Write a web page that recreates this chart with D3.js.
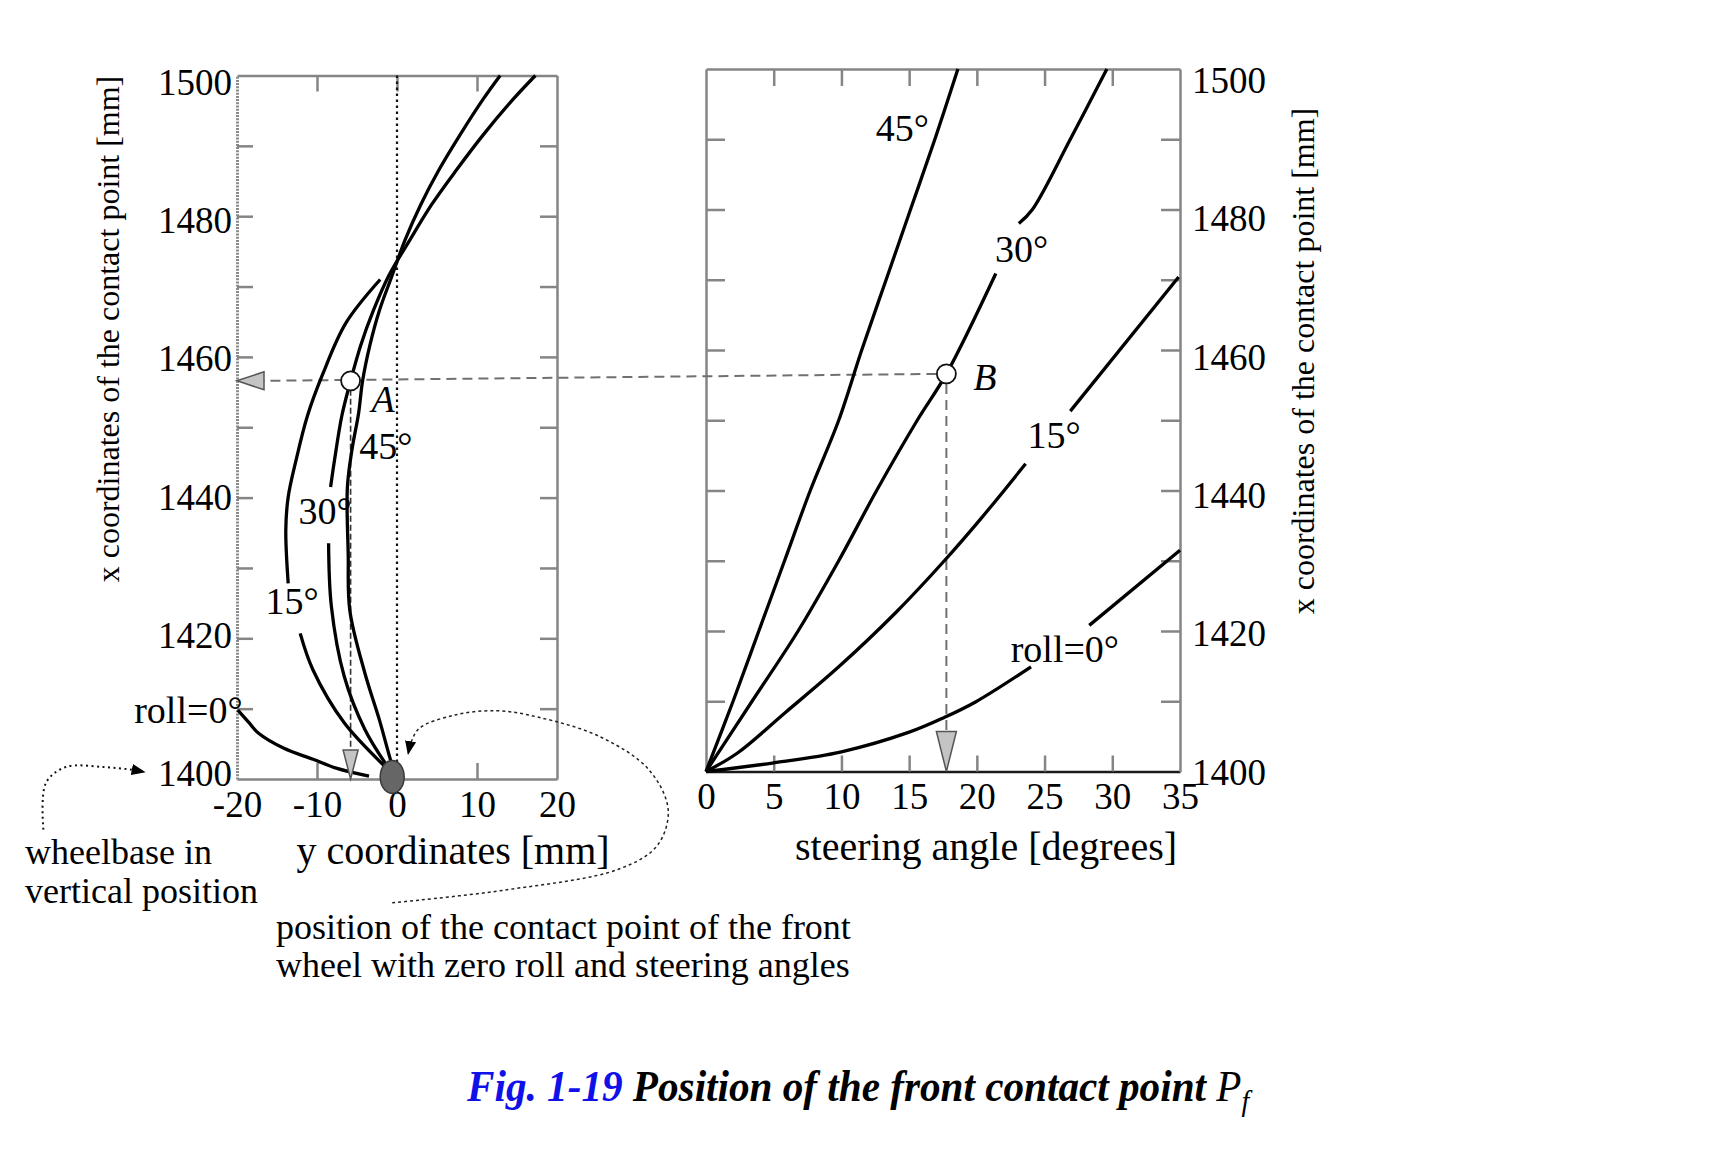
<!DOCTYPE html>
<html>
<head>
<meta charset="utf-8">
<script src="https://cdn.jsdelivr.net/npm/d3@7"></script>
<style>
  body { margin: 0; background: #fff; }
  svg text { font-family: "Liberation Serif", "Times New Roman", serif; }
</style>
</head>
<body>
<svg id="fig" width="1712" height="1159"></svg>
<script>
// values
// left panel : [y coordinate mm, x coordinate mm], one list of segments per roll angle
// (segments are broken where the curve label sits)
const roll0Left = [
  [[-19.9,1409.8],[-18.5,1408],[-17.3,1406.5],[-14.2,1404.4],[-10.5,1402.8],[-7.5,1401.5],[-3.5,1400.4]]
];
const roll15Left = [
  [[0,1400],[-1.2,1401.4],[-6.6,1408],[-10.5,1415.5],[-12.1,1420.7]],
  [[-13.6,1427.8],[-13.9,1435.4],[-13.6,1440.1],[-12.6,1445.4],[-11.2,1451.6],[-9.3,1457.5],[-6.4,1464.8],[-2.1,1471]]
];
const roll30Left = [
  [[0,1400],[-1.2,1401.8],[-4.0,1407],[-6.6,1414.6],[-8.2,1424.5],[-8.55,1433.5]],
  [[-8.3,1441.5],[-7.8,1445.4],[-6.9,1451.6],[-5.8,1456.6],[-4.55,1461.6],[-2.95,1466.6],[-1.0,1471.6],
   [1.6,1476.6],[4.3,1481.6],[7.45,1486.6],[10.8,1491.6],[14.5,1496.6],[17.3,1500]]
];
const roll45Left = [
  [[0,1400],[-0.7,1402.3],[-2.2,1408.4],[-4.0,1415],[-5.9,1424],[-6.1,1432],[-6.2,1441.5],[-5.6,1447],
   [-4.8,1452],[-4.3,1456.6],[-3.4,1461.6],[-2.2,1466.6],[-0.6,1471.6],[1.0,1476.6],[2.95,1481.6],
   [5.25,1486.6],[7.9,1491.6],[10.75,1496.6],[12.9,1500]]
];

// right panel : [steering angle deg, x coordinate mm]
const roll0Right = [
  [[0,1400],[4.9,1401.2],[10,1402.8],[15,1405.6],[17.6,1407.7],[19.9,1409.9],[24,1414.9]],
  [[28.3,1420.8],[35,1431.5]]
];
const roll15Right = [
  [[0,1400],[2.3,1402.6],[5.8,1408.3],[9.8,1414.9],[14,1422.6],[17.6,1430],[20.3,1436],[23.6,1443.8]],
  [[26.9,1451.3],[34.9,1470.4]]
];
const roll30Right = [
  [[0,1400],[3.4,1410],[6.8,1420],[9.8,1430],[12.6,1440],[15.6,1450],[17.75,1456.6],[21.4,1470.9]],
  [[23.1,1478],[24.1,1480],[26.9,1490],[29.6,1500]]
];
const roll45Right = [
  [[0,1400],[2,1410],[3.9,1420],[5.8,1430],[7.7,1440],[9.8,1450],[11.5,1460],[13.3,1470],[15.1,1480],[16.9,1490],[18.6,1500]]
];

const pointA = [-5.8, 1456.6];   // left panel
const pointB = [17.75, 1456.6];  // right panel
const contactPoint = [-0.6, 1400.3];

// ticks
const yCoordTicks = [-20, -10, 0, 10, 20];
const yCoordMinor = [-10, 0, 10];
const xCoordTicks = [1400, 1420, 1440, 1460, 1480, 1500];
const xCoordMinor = [1410, 1420, 1430, 1440, 1450, 1460, 1470, 1480, 1490];
const steerTicks = [0, 5, 10, 15, 20, 25, 30, 35];
const steerMinor = [5, 10, 15, 20, 25, 30];

// curve labels (data units of their panel)
const labelsLeft = [
  { t: "45°", a: -1.4, b: 1445.5 },
  { t: "30°", a: -9.0, b: 1436.2 },
  { t: "15°", a: -13.1, b: 1423.4 }
];
const labelsRight = [
  { t: "45°", a: 14.5, b: 1489.8 },
  { t: "30°", a: 23.3, b: 1472.5 },
  { t: "15°", a: 25.7, b: 1446.0 },
  { t: "roll=0°", a: 26.5, b: 1415.6 }
];

// ---------------------------------------------------------------
const svg = d3.select("#fig");
svg.append("rect").attr("width", 1712).attr("height", 1159).attr("fill", "#fff");

const xL = d3.scaleLinear().domain([-20, 20]).range([237, 557]);
const yL = d3.scaleLinear().domain([1400, 1500]).range([779, 75.5]);
const xR = d3.scaleLinear().domain([0, 35]).range([706, 1180]);
const yR = d3.scaleLinear().domain([1400, 1500]).range([771.5, 69]);

const frameGrey = "#858585";

function addAxis(axis, tx, ty, domainColor) {
  const g = svg.append("g").attr("transform", "translate(" + tx + "," + ty + ")").call(axis);
  if (domainColor) g.select(".domain").attr("stroke", domainColor).attr("stroke-width", 2.5);
  else g.select(".domain").remove();
  g.selectAll(".tick line").attr("stroke", frameGrey).attr("stroke-width", 2.5);
  g.selectAll(".tick text").attr("fill", "#000").style("font-size", "37px");
  return g;
}
const fmt = d => String(d);

// left panel frame
addAxis(d3.axisBottom(xL).tickValues(yCoordTicks).tickSize(0).tickSizeOuter(0).tickPadding(12).tickFormat(fmt), 0, yL(1400), frameGrey);
addAxis(d3.axisBottom(xL).tickValues(yCoordMinor).tickSize(-16).tickSizeOuter(0).tickFormat(""), 0, yL(1400), null);
addAxis(d3.axisTop(xL).tickValues(yCoordMinor).tickSize(-16).tickSizeOuter(0).tickFormat(""), 0, yL(1500), frameGrey);
const leftAx = addAxis(d3.axisLeft(yL).tickValues(xCoordTicks).tickSize(0).tickSizeOuter(0).tickPadding(5).tickFormat(fmt), xL(-20), 0, "#8a8a8a");
leftAx.select(".domain").attr("stroke-dasharray", "2,1.2").attr("stroke-width", 3);
// the printed labels sit a little closer together than the ticks
leftAx.selectAll(".tick text").attr("dy", "0.34em")
  .attr("transform", d => "translate(0," + (-6 + (d - 1400) * 0.125) + ")");
addAxis(d3.axisLeft(yL).tickValues(xCoordMinor).tickSize(-16).tickSizeOuter(0).tickFormat(""), xL(-20), 0, null);
addAxis(d3.axisRight(yL).tickValues(xCoordMinor).tickSize(-17).tickSizeOuter(0).tickFormat(""), xL(20), 0, frameGrey);

// right panel frame
addAxis(d3.axisBottom(xR).tickValues(steerTicks).tickSize(0).tickSizeOuter(0).tickPadding(11).tickFormat(fmt), 0, yR(1400), "#1a1a1a");
addAxis(d3.axisBottom(xR).tickValues(steerMinor).tickSize(-16).tickSizeOuter(0).tickFormat(""), 0, yR(1400), null);
addAxis(d3.axisTop(xR).tickValues(steerMinor).tickSize(-17).tickSizeOuter(0).tickFormat(""), 0, yR(1500), frameGrey);
addAxis(d3.axisLeft(yR).tickValues(xCoordMinor).tickSize(-19).tickSizeOuter(0).tickFormat(""), xR(0), 0, frameGrey);
const rightAx = addAxis(d3.axisRight(yR).tickValues(xCoordTicks).tickSize(0).tickSizeOuter(0).tickPadding(12).tickFormat(fmt), xR(35), 0, frameGrey);
rightAx.selectAll(".tick text").attr("dy", "0.34em")
  .attr("transform", d => "translate(0," + ((d - 1400) * 0.11) + ")");
addAxis(d3.axisRight(yR).tickValues(xCoordMinor).tickSize(-19).tickSizeOuter(0).tickFormat(""), xR(35), 0, null);

// dotted line at y = 0
svg.append("line")
  .attr("x1", xL(0)).attr("x2", xL(0)).attr("y1", yL(1500)).attr("y2", yL(1400))
  .attr("stroke", "#111").attr("stroke-width", 2.2).attr("stroke-dasharray", "2.5,3.5");

// construction lines A <- B
svg.append("line")
  .attr("x1", xR(pointB[0]) - 10).attr("y1", yR(pointB[1]))
  .attr("x2", xL(-20) + 26).attr("y2", yL(pointA[1]))
  .attr("stroke", "#707070").attr("stroke-width", 2).attr("stroke-dasharray", "10,6");
svg.append("line")
  .attr("x1", xR(pointB[0])).attr("y1", yR(pointB[1]) + 10)
  .attr("x2", xR(pointB[0])).attr("y2", yR(1400) - 40)
  .attr("stroke", "#707070").attr("stroke-width", 2).attr("stroke-dasharray", "10,6");
svg.append("line")
  .attr("x1", xL(pointA[0])).attr("y1", yL(pointA[1]) + 9)
  .attr("x2", xL(pointA[0])).attr("y2", yL(1400) - 28)
  .attr("stroke", "#333").attr("stroke-width", 1.6).attr("stroke-dasharray", "6,3");

// curves
const lineL = d3.line().x(d => xL(d[0])).y(d => yL(d[1])).curve(d3.curveCatmullRom.alpha(0.5));
const lineR = d3.line().x(d => xR(d[0])).y(d => yR(d[1])).curve(d3.curveCatmullRom.alpha(0.5));
[roll0Left, roll15Left, roll30Left, roll45Left].forEach(curve => {
  svg.append("g").selectAll("path").data(curve).join("path")
    .attr("d", lineL).attr("fill", "none").attr("stroke", "#000")
    .attr("stroke-width", 3.3).attr("stroke-linecap", "butt");
});
[roll0Right, roll15Right, roll30Right, roll45Right].forEach(curve => {
  svg.append("g").selectAll("path").data(curve).join("path")
    .attr("d", lineR).attr("fill", "none").attr("stroke", "#000")
    .attr("stroke-width", 3.3).attr("stroke-linecap", "butt");
});

// grey arrow heads
function tri(points) {
  svg.append("path").attr("d", "M" + points.map(p => p.join(",")).join("L") + "Z")
    .attr("fill", "#c4c4c4").attr("stroke", "#555").attr("stroke-width", 1.5);
}
const yArrow = yL(pointA[1]);
tri([[xL(-20), yArrow], [xL(-20) + 27, yArrow - 9], [xL(-20) + 27, yArrow + 9]]);
tri([[xL(pointA[0]), yL(1400)], [xL(pointA[0]) - 7.5, yL(1400) - 29], [xL(pointA[0]) + 7.5, yL(1400) - 29]]);
tri([[xR(pointB[0]), yR(1400)], [xR(pointB[0]) - 10, yR(1400) - 40], [xR(pointB[0]) + 10, yR(1400) - 40]]);

// points A, B
svg.append("circle").attr("cx", xL(pointA[0])).attr("cy", yL(pointA[1])).attr("r", 9.5)
  .attr("fill", "#fff").attr("stroke", "#111").attr("stroke-width", 1.8);
svg.append("circle").attr("cx", xR(pointB[0])).attr("cy", yR(pointB[1])).attr("r", 9.5)
  .attr("fill", "#fff").attr("stroke", "#111").attr("stroke-width", 1.8);

// contact point of the front wheel
svg.append("ellipse").attr("cx", xL(contactPoint[0])).attr("cy", yL(contactPoint[1]))
  .attr("rx", 12).attr("ry", 16.5).attr("fill", "#666").attr("stroke", "#3a3a3a").attr("stroke-width", 1.5);

// labels
const labelSize = "38px";
svg.append("g").selectAll("text").data(labelsLeft).join("text")
  .attr("x", d => xL(d.a)).attr("y", d => yL(d.b)).attr("text-anchor", "middle")
  .style("font-size", labelSize).text(d => d.t);
svg.append("g").selectAll("text").data(labelsRight).join("text")
  .attr("x", d => xR(d.a)).attr("y", d => yR(d.b)).attr("text-anchor", "middle")
  .style("font-size", labelSize).text(d => d.t);
svg.append("text").attr("x", xL(-19.3)).attr("y", yL(1408)).attr("text-anchor", "end")
  .style("font-size", labelSize).text("roll=0°");
svg.append("text").attr("x", xL(-1.75)).attr("y", yL(1452.2)).attr("text-anchor", "middle")
  .style("font-size", labelSize).style("font-style", "italic").text("A");
svg.append("text").attr("x", xR(20.6)).attr("y", yR(1454.3)).attr("text-anchor", "middle")
  .style("font-size", labelSize).style("font-style", "italic").text("B");

// axis titles
svg.append("text").attr("transform", "translate(119,329) rotate(-90)").attr("text-anchor", "middle")
  .style("font-size", "32px").text("x coordinates of the contact point [mm]");
svg.append("text").attr("transform", "translate(1314,361) rotate(-90)").attr("text-anchor", "middle")
  .style("font-size", "32px").text("x coordinates of the contact point [mm]");
svg.append("text").attr("x", 453).attr("y", 864).attr("text-anchor", "middle")
  .style("font-size", "40px").text("y coordinates [mm]");
svg.append("text").attr("x", 986).attr("y", 860).attr("text-anchor", "middle")
  .style("font-size", "40px").text("steering angle [degrees]");

// annotations
const defs = svg.append("defs");
defs.append("marker").attr("id", "head").attr("viewBox", "0 0 10 10").attr("refX", 9).attr("refY", 5)
  .attr("markerWidth", 14).attr("markerHeight", 14).attr("markerUnits", "userSpaceOnUse").attr("orient", "auto")
  .append("path").attr("d", "M0,1L10,5L0,9Z").attr("fill", "#000");

const wheelbaseArrow = [[-44.2,1392.8],[-43.9,1399.4],[-41.4,1401.7],[-36.7,1401.7],[-33.1,1401.3],[-31.6,1401.0]];
const contactArrow = [[-0.6,1382.4],[13.4,1384.2],[27.75,1387.2],[32.5,1390.5],[33.9,1395.6],
  [31.5,1401.3],[25.4,1406],[17.6,1408.8],[12.5,1409.7],[7.25,1409.1],[2.6,1407],[1.4,1403.6]];
const annLine = d3.line().x(d => xL(d[0])).y(d => yL(d[1])).curve(d3.curveCatmullRom.alpha(0.5));
svg.append("path").attr("d", annLine(wheelbaseArrow)).attr("fill", "none").attr("stroke", "#111")
  .attr("stroke-width", 2).attr("stroke-dasharray", "2,3.5").attr("marker-end", "url(#head)");
svg.append("path").attr("d", annLine(contactArrow)).attr("fill", "none").attr("stroke", "#222")
  .attr("stroke-width", 1.5).attr("stroke-dasharray", "3,3").attr("marker-end", "url(#head)");

const noteSize = "36px";
svg.append("text").attr("x", 25).attr("y", 864).style("font-size", noteSize).text("wheelbase in");
svg.append("text").attr("x", 25).attr("y", 903).style("font-size", noteSize).text("vertical position");
svg.append("text").attr("x", 276).attr("y", 939).style("font-size", noteSize).text("position of the contact point of the front");
svg.append("text").attr("x", 276).attr("y", 977).style("font-size", noteSize).text("wheel with zero roll and steering angles");

// caption (printed in a narrow face, so squeeze it horizontally)
const cap = svg.append("text").attr("transform", "translate(467,1101) scale(0.936,1)")
  .style("font-size", "44px").style("font-style", "italic").style("font-weight", "bold");
cap.append("tspan").attr("fill", "#1010e8").text("Fig. 1-19");
cap.append("tspan").attr("fill", "#000").text(" Position of the front contact point ");
cap.append("tspan").attr("fill", "#000").style("font-weight", "normal").text("P");
cap.append("tspan").attr("fill", "#000").style("font-weight", "normal").style("font-size", "30px")
  .attr("dy", 10).text("f");
</script>
</body>
</html>
